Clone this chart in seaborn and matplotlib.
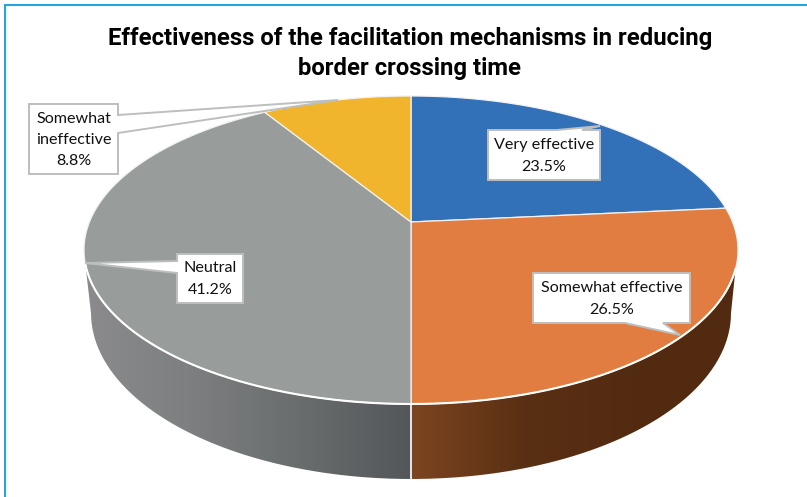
import numpy as np
import matplotlib
matplotlib.use("Agg")
import matplotlib.pyplot as plt
from matplotlib.colors import LinearSegmentedColormap
from matplotlib.patches import Polygon, PathPatch
from matplotlib.path import Path
import seaborn as sns

# ---- data ----
categories = ["Very effective", "Somewhat effective", "Neutral", "Somewhat\nineffective"]
shares = [23.5, 26.5, 41.2, 8.8]
slice_hex = ["#3270B8", "#E17D40", "#989D9C", "#F0B42D"]
title_lines = ["Effectiveness of the facilitation mechanisms in reducing", "border crossing time"]

# ---- layout (pixel space of the figure) ----
W, H = 807, 497
CX, CY, RX, RY, TILT = 411, 250, 327, 154, 0.182
BCY, BRX, BRY = 313, 320, 166
side_stops = {1: ["#7D4420", "#5A3014", "#532B10", "#522A0F"],
              2: ["#8C8C8E", "#7D7F80", "#6A6D6D", "#53575A"]}
callouts = [
    dict(rect=(488, 130, 600, 180), notch=[(600, 130), (582, 130), (600, 126), (557, 130)], ly=[145, 167]),
    dict(rect=(533, 273, 690, 323), notch=[(663, 323), (680, 335), (625, 323)], side="bottom", ly=[288, 310]),
    dict(rect=(177, 254, 243, 303), notch=[(177, 273), (85, 263), (177, 261)], side="left", ly=[268, 290]),
    dict(rect=(29, 104, 118, 174), notch=[(118, 115), (338, 100), (118, 133)], side="right", ly=[119, 140, 161]),
]

sns.set_theme(style="white")
plt.rcParams["font.family"] = ["Lato", "DejaVu Sans"]
palette = sns.color_palette(slice_hex)

fig = plt.figure(figsize=(W / 100, H / 100), dpi=100, facecolor="white")
ax = fig.add_axes([0, 0, 1, 1])

# the library lays the slices out; the wedges are then put in perspective
wedges, _ = ax.pie(shares, startangle=90, counterclock=False, colors=palette)
angles = [(w.theta1, w.theta2) for w in wedges]
for w in wedges:
    w.remove()
ax.set_aspect("auto")
ax.set_xlim(0, W)
ax.set_ylim(H, 0)
ax.axis("off")


def project(theta_deg):
    t = np.radians(theta_deg)
    u, v = np.cos(t), np.sin(t)
    s = np.sqrt(1 - TILT ** 2)
    d = 1 + TILT * v
    return CX + RX * u * s / d, CY - RY * (v + TILT) / d


def rim(cy, rx, ry, phi):
    p = np.radians(phi)
    return CX + rx * np.sin(p), cy - ry * np.cos(p)


# sides: outline of the visible wall
phi_top = np.linspace(97, 265, 300)
phi_bot = np.linspace(270, 90, 300)
tx, ty = rim(CY, RX, RY, phi_top)
bx, by = rim(BCY, BRX, BRY, phi_bot)
outline = np.column_stack([np.r_[tx, bx], np.r_[ty, by]])
for i, (t1, t2) in enumerate(angles):
    a, b = sorted(((90 - t1) % 360, (90 - t2) % 360))
    if t2 - t1 > 180:
        continue
    lo, hi = max(a, 90), min(b if b > a else 360, 270)
    if lo >= hi or i not in side_stops:
        continue
    x0 = CX + RX * 1.02 * np.sin(np.radians(hi))
    x1 = CX + RX * 1.02 * np.sin(np.radians(lo))
    x0, x1 = min(x0, x1), max(x0, x1)
    cmap = LinearSegmentedColormap.from_list(f"side{i}", side_stops[i])
    im = ax.imshow(np.linspace(0, 1, 256).reshape(1, -1), cmap=cmap, aspect="auto",
                   extent=(x0, x1, 490, 240), zorder=1, interpolation="bilinear")
    clip = PathPatch(Path(outline, closed=False), transform=ax.transData, fc="none", ec="none")
    ax.add_patch(clip)
    im.set_clip_path(clip)
ax.set_xlim(0, W)
ax.set_ylim(H, 0)

# the seam on the wall
for t1, t2 in angles:
    for t in (t1, t2):
        if abs(np.sin(np.radians(t)) + 1) < 1e-6:
            x, y = project(t)
            ax.plot([x, x], [y, BCY + BRY], color="#E8E8E8", lw=1.2, zorder=2)

# top face
for (t1, t2), col in zip(angles, palette):
    ts = np.linspace(t1, t2, 240)
    xs, ys = project(ts)
    verts = np.column_stack([np.r_[CX, xs], np.r_[CY - RY * TILT, ys]])
    ax.add_patch(Polygon(verts, closed=True, fc=col, ec="#F2F2F2", lw=0.9, zorder=3))

# white rim at the front edge
ax.plot(*rim(CY, RX, RY, phi_top), color="white", lw=1.5, zorder=3.5)

# callouts
for c, cat, val in zip(callouts, categories, shares):
    x0, y0, x1, y1 = c["rect"]
    side = c.get("side", "top")
    n = c["notch"]
    if side == "top":
        pts = [(x0, y0)] + n[::-1] + [(x1, y0), (x1, y1), (x0, y1)]
    elif side == "bottom":
        pts = [(x0, y0), (x1, y0), (x1, y1)] + n + [(x0, y1)]
    elif side == "left":
        pts = [(x0, y0), (x1, y0), (x1, y1), (x0, y1)] + n
    else:
        pts = [(x0, y0), (x1, y0)] + n + [(x1, y1), (x0, y1)]
    ax.add_patch(Polygon(pts, closed=True, fc="white", ec="#BDBFBF", lw=1.4, zorder=4, joinstyle="miter"))
    lines = cat.split("\n") + [f"{val:.1f}%"]
    for ln, yy in zip(lines, c["ly"]):
        ax.text((x0 + x1) / 2, yy, ln, ha="center", va="center", fontsize=11.6, color="#111111", zorder=5)

# title
for ln, yy in zip(title_lines, [38, 69]):
    ax.text(410, yy, ln, ha="center", va="center", fontsize=17.2, fontweight="bold",
            family=["Roboto", "Liberation Sans"], color="black", zorder=5)

# frame: top and left only
ax.plot([5, 5, W], [H, 5, 5], color="#21A6DE", lw=1.5, zorder=6, solid_joinstyle="miter")

fig.savefig("out.png", dpi=100, facecolor="white")
